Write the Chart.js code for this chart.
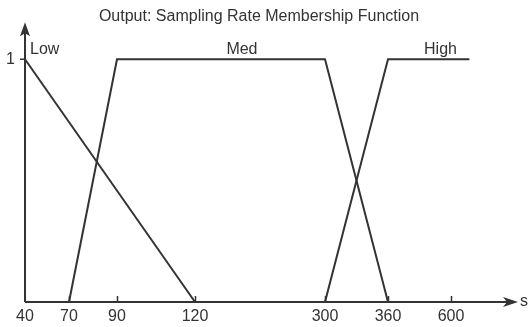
<!DOCTYPE html>
<html>
<head>
<meta charset="utf-8">
<script src="https://cdn.jsdelivr.net/npm/chart.js@4/dist/chart.umd.min.js"></script>
<style>
  html, body { margin: 0; padding: 0; background: #fff; }
  canvas { display: block; }
</style>
</head>
<body>
<canvas id="chart" width="532" height="327"></canvas>
<script>
// membership functions (x = sampling rate, y = degree of membership)
const lowX = [40, 120];
const lowY = [1, 0];
const medX = [70, 90, 300, 360];
const medY = [0, 1, 1, 0];
const highX = [300, 360, 670];
const highY = [0, 1, 1];

const setNames = ["Low", "Med", "High"];
const tickValues = [40, 70, 90, 120, 300, 360, 600];

// the x axis is not to scale in the original, so each tick gets its own spot
const axisSpots = [0, 44, 92, 170, 300, 363, 426];
const axisEnd = 493;

function warp(v) {
  const n = tickValues.length;
  let i = 0;
  while (i < n - 2 && v > tickValues[i + 1]) i++;
  const t = (v - tickValues[i]) / (tickValues[i + 1] - tickValues[i]);
  return axisSpots[i] + t * (axisSpots[i + 1] - axisSpots[i]);
}

function toPoints(xs, ys) {
  return xs.map((x, i) => ({ x: warp(x), y: ys[i] }));
}

const ink = "#333";
const font = { family: "'Liberation Sans', Arial, sans-serif", size: 16 };

const line = (label, xs, ys) => ({
  label: label,
  data: toPoints(xs, ys),
  borderColor: ink,
  borderWidth: 2,
  pointRadius: 0,
  tension: 0,
  clip: false
});

// axes with arrowheads, tick marks and the set names
const axisPlugin = {
  id: "axisPlugin",
  afterDraw(chart) {
    const ctx = chart.ctx;
    const xs = chart.scales.x, ys = chart.scales.y;
    const left = xs.left, bottom = ys.bottom, right = xs.right;
    const top = ys.getPixelForValue(1) - 37;
    ctx.save();
    ctx.strokeStyle = ink;
    ctx.fillStyle = ink;
    ctx.lineWidth = 2;
    ctx.beginPath();
    ctx.moveTo(left, bottom);
    ctx.lineTo(right - 8, bottom);
    ctx.moveTo(left, bottom);
    ctx.lineTo(left, top + 8);
    ctx.stroke();

    // arrowheads
    ctx.beginPath();
    ctx.moveTo(right, bottom);
    ctx.lineTo(right - 15, bottom - 5);
    ctx.lineTo(right - 11, bottom);
    ctx.lineTo(right - 15, bottom + 5);
    ctx.closePath();
    ctx.fill();
    ctx.beginPath();
    ctx.moveTo(left, top);
    ctx.lineTo(left - 5, top + 14);
    ctx.lineTo(left, top + 11);
    ctx.lineTo(left + 5, top + 14);
    ctx.closePath();
    ctx.fill();

    // tick marks
    ctx.lineWidth = 1.5;
    ctx.beginPath();
    xs.ticks.forEach(t => {
      if (t.value === 0) return;
      const px = Math.round(xs.getPixelForValue(t.value)) + 0.5;
      ctx.moveTo(px, bottom - 6);
      ctx.lineTo(px, bottom + 1);
    });
    const py = ys.getPixelForValue(1);
    ctx.moveTo(left - 5, py);
    ctx.lineTo(left, py);
    ctx.stroke();

    // labels
    ctx.font = font.size + "px " + font.family;
    ctx.textBaseline = "middle";
    ctx.textAlign = "left";
    ctx.fillText("s", right + 2, bottom);
    const nameY = py - 10;
    ctx.fillText(setNames[0], left + 5, nameY);
    ctx.textAlign = "center";
    ctx.fillText(setNames[1], xs.getPixelForValue(warp(185)), nameY);
    ctx.fillText(setNames[2], xs.getPixelForValue(warp(560)), nameY);
    ctx.restore();
  }
};

new Chart(document.getElementById("chart"), {
  type: "line",
  data: {
    datasets: [
      line(setNames[0], lowX, lowY),
      line(setNames[1], medX, medY),
      line(setNames[2], highX, highY)
    ]
  },
  options: {
    responsive: false,
    animation: false,
    layout: { padding: { left: 0, right: 14, top: 0, bottom: 0 } },
    plugins: {
      legend: { display: false },
      tooltip: { enabled: false },
      title: {
        display: true,
        text: "Output: Sampling Rate Membership Function",
        color: ink,
        font: { family: font.family, size: 16, weight: "normal" },
        padding: { top: 7, bottom: 33 }
      }
    },
    scales: {
      x: {
        type: "linear",
        min: 0,
        max: axisEnd,
        afterBuildTicks: s => { s.ticks = axisSpots.map(v => ({ value: v })); },
        afterFit: s => { s.height = 25; },
        grid: { display: false, drawTicks: false },
        border: { display: false },
        ticks: {
          autoSkip: false,
          maxRotation: 0,
          padding: 5,
          color: ink,
          font: font,
          callback: (v) => {
            const i = axisSpots.indexOf(v);
            return i >= 0 ? String(tickValues[i]) : "";
          }
        }
      },
      y: {
        min: 0,
        max: 1,
        afterBuildTicks: s => { s.ticks = [{ value: 1 }]; },
        afterFit: s => { s.width = 25; },
        grid: { display: false, drawTicks: false },
        border: { display: false },
        ticks: { padding: 10, color: ink, font: font }
      }
    }
  },
  plugins: [axisPlugin]
});
</script>
</body>
</html>
